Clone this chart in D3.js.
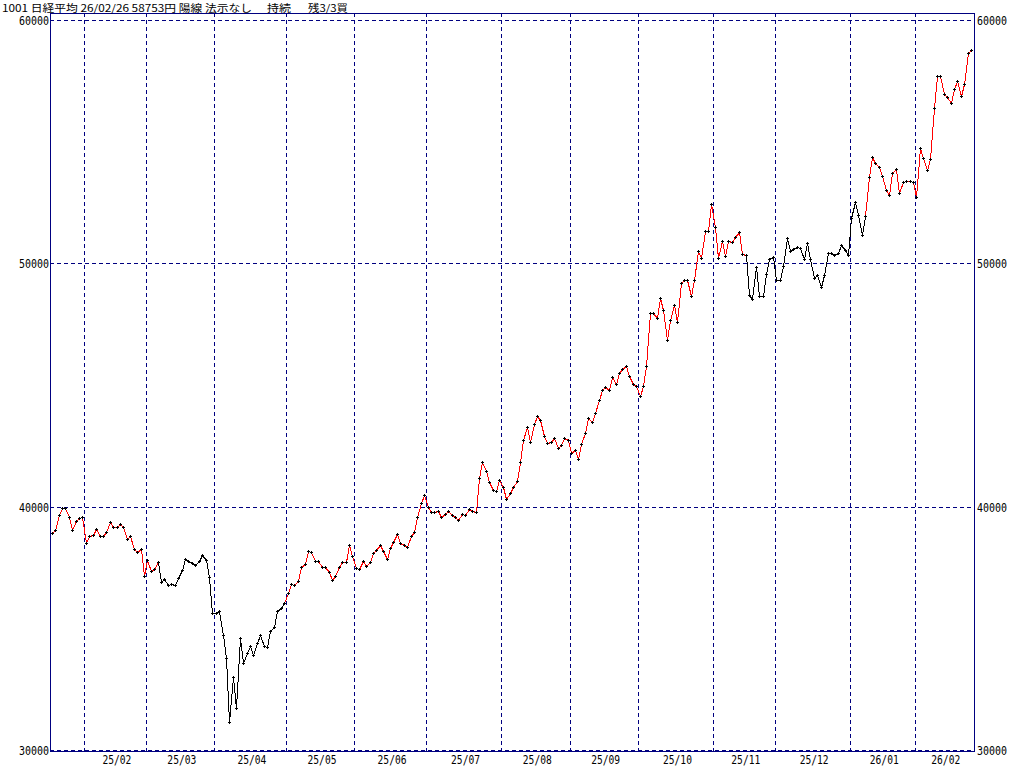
<!DOCTYPE html>
<html><head><meta charset="utf-8">
<script src="https://cdn.jsdelivr.net/npm/d3@7"></script>
<style>
html,body{margin:0;padding:0;background:#fff;}
svg{display:block;}
</style></head>
<body>
<svg id="chart" width="1024" height="767"></svg>
<script>
// ---------- data ----------
const titleText = "1001 日経平均 26/02/26 58753円 陽線 法示なし";
const statusText = "持続";
const remainText = "残3/3買";
const monthLabels = ["25/01","25/02","25/03","25/04","25/05","25/06","25/07","25/08","25/09","25/10","25/11","25/12","26/01","26/02"];
const monthDays   = [10,18,20,21,20,21,22,20,20,22,18,22,19,17];
const yTicks = [30000,40000,50000,60000];
const closes2025a = [
  // 25/01
  38902,39027,39646,39958,39931,39566,39016,39415,39513,39572,
  // 25/02
  38520,38798,38831,39066,38787,38801,38963,39350,39149,39174,39270,39164,38678,38776,38237,38142,38256,37155,
  // 25/03
  37785,37331,37418,37704,36887,37028,36793,36819,36790,37053,37396,37845,37751,37677,37608,37780,38027,37799,37120,35617,
  // 25/04
  35624,35725,34736,33781,31136,33012,31714,34609,33586,33982,34267,33920,34377,34730,34280,34221,34868,35039,35705,35840,36045,
  // 25/05
  36452,36830,36780,36928,37503,37644,38183,38128,37755,37753,37499,37529,37299,36986,37160,37531,37724,37722,38432,37965,
  // 25/06
  37470,37446,37747,37554,37741,38088,38211,38421,38173,37834,38311,38537,38885,38488,38403,38354,38790,38942,39584,40150,40487
];
const closes2025b = [
  // 25/07
  39986,39762,39785,39810,39587,39688,39821,39646,39569,39459,39678,39663,39901,39819,39775,41171,41826,41456,40998,40674,40654,41070,
  // 25/08
  40799,40290,40549,40794,41059,41820,42718,43274,42649,43378,43714,43546,42888,42610,42633,42807,42394,42520,42829,42718,
  // 25/09
  42188,42310,41938,42580,43018,43643,43459,43837,44372,44768,44902,44790,45303,45045,45493,45630,45754,45354,45043,44932,
  // 25/10
  44550,44936,45769,47944,47950,47734,48580,48088,46847,47672,48277,47582,49185,49316,49307,48641,49299,50512,50219,51307,51325,52411,
  // 25/11
  51497,50212,50883,50276,50911,50842,51063,51281,50376,50323,48702,48537,49823,48625,48659,49559,50167,50253,
  // 25/12
  49303,49303,49864,51028,50491,50581,50655,50602,50148,50837,50168,49383,49512,49001,49507,50402,50412,50344,50407,50750,50526,50339
];
const closes2026 = [
  // 26/01
  51830,52520,51960,51140,51940,53550,54340,54110,53940,53580,52990,52780,53690,53850,52890,53340,53360,53380,53320,
  // 26/02
  52700,54710,54300,53820,54270,56360,57680,57690,56940,56800,56560,57150,57460,56850,57350,58610,58753
];
// trend signal (segment colour) switches: [first index, state]
const signalChanges = [[1,"buy"],[32,"sell"],[69,"buy"],[204,"sell"],[239,"buy"]];

// ---------- build ----------
const closes = closes2025a.concat(closes2025b, closes2026);
const n = closes.length;
const W = 1024, H = 767;
const frame = {left:50, top:13, right:974, bottom:751};
const gridColor = "#000080";

const svg = d3.select("#chart");
svg.append("rect").attr("width",W).attr("height",H).attr("fill","#fff");

const x = d3.scaleLinear().domain([0, n-1]).range([51.7, 971.1]);
const y = d3.scaleLinear().domain([30000, 60000]).range([750, 19.5]);

// month boundaries
const monthStarts = [];
let acc = 0;
monthDays.forEach(d => { monthStarts.push(acc); acc += d; });

const g = svg.append("g").attr("shape-rendering","crispEdges");

// horizontal dashed gridlines
g.selectAll("line.hg").data(yTicks).join("line")
  .attr("x1", frame.left).attr("x2", frame.right)
  .attr("y1", d => Math.round(y(d))+0.5).attr("y2", d => Math.round(y(d))+0.5)
  .attr("stroke", gridColor).attr("stroke-width",1).attr("stroke-dasharray","4,3");

// vertical dashed month lines
const vlines = monthStarts.slice(1);
g.selectAll("line.vg").data(vlines).join("line")
  .attr("x1", d => Math.round(x(d-0.5))+0.5).attr("x2", d => Math.round(x(d-0.5))+0.5)
  .attr("y1", frame.top).attr("y2", frame.bottom)
  .attr("stroke", gridColor).attr("stroke-width",1).attr("stroke-dasharray","4,3");

// frame
g.append("rect")
  .attr("x", frame.left+0.5).attr("y", frame.top+0.5)
  .attr("width", frame.right-frame.left).attr("height", frame.bottom-frame.top)
  .attr("fill","none").attr("stroke",gridColor).attr("stroke-width",1);

// segment colours
function stateAt(i){
  let s = "buy";
  signalChanges.forEach(([k,v]) => { if (i >= k) s = v; });
  return s;
}
const pts = closes.map((v,i) => ({i, v, X: Math.round(x(i)), Y: Math.round(y(v))}));
const segs = d3.range(1, n).map(i => ({a: pts[i-1], b: pts[i], s: stateAt(i)}));
g.selectAll("line.seg").data(segs).join("line")
  .attr("x1", d => d.a.X+0.5).attr("y1", d => d.a.Y+0.5)
  .attr("x2", d => d.b.X+0.5).attr("y2", d => d.b.Y+0.5)
  .attr("stroke", d => d.s === "buy" ? "#ff0000" : "#000000")
  .attr("stroke-width",1);

// markers "+"
const mk = g.selectAll("g.mk").data(pts).join("g");
mk.append("rect").attr("x", d => d.X-1).attr("y", d => d.Y).attr("width",3).attr("height",1).attr("fill","#000");
mk.append("rect").attr("x", d => d.X).attr("y", d => d.Y-1).attr("width",1).attr("height",3).attr("fill","#000");

// axis labels
const numFont = "'DejaVu Sans Mono','Liberation Mono',monospace";
const t = svg.append("g").attr("font-family", numFont).attr("font-size","12px").attr("fill","#000");
t.selectAll("text.yl").data(yTicks).join("text")
  .attr("x", 49).attr("y", d => Math.round(y(d))+5)
  .attr("text-anchor","end").attr("textLength",30).attr("lengthAdjust","spacingAndGlyphs")
  .text(d => d);
t.selectAll("text.yr").data(yTicks).join("text")
  .attr("x", 977).attr("y", d => Math.round(y(d))+5)
  .attr("textLength",30).attr("lengthAdjust","spacingAndGlyphs")
  .text(d => d);

// month labels (skip first partial month)
const ml = monthLabels.map((lab,k) => {
  const s = monthStarts[k], e = s + monthDays[k] - 1;
  return {lab, cx: (x(s-0.5)+x(e+0.5))/2 + 2, k};
}).filter(d => d.k > 0);
t.selectAll("text.xl").data(ml).join("text")
  .attr("x", d => d.cx - 14.5).attr("y", 764)
  .attr("textLength",29).attr("lengthAdjust","spacingAndGlyphs")
  .text(d => d.lab);

// header
const hf = "'Noto Sans CJK JP','Noto Sans',sans-serif";
const h = svg.append("g").attr("font-family", hf).attr("font-size","10px").attr("fill","#000");
h.append("text").attr("x",2).attr("y",11.5).attr("textLength",250).attr("lengthAdjust","spacingAndGlyphs").text(titleText);
h.append("text").attr("x",267).attr("y",11.5).attr("textLength",24).attr("lengthAdjust","spacingAndGlyphs").text(statusText);
h.append("text").attr("x",308).attr("y",11.5).attr("textLength",40).attr("lengthAdjust","spacingAndGlyphs").text(remainText);
</script>
</body></html>
